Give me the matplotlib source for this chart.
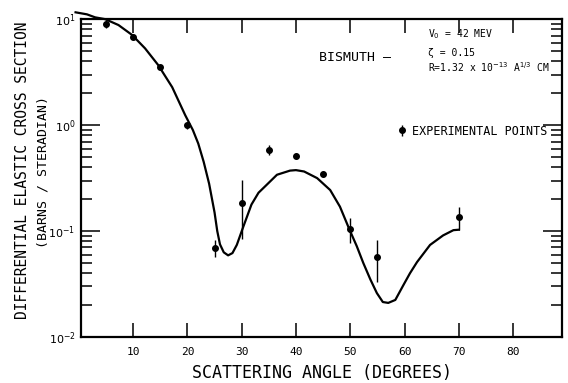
import numpy as np
import matplotlib.pyplot as plt

# angles in degrees, cross section in barns / steradian
exp_angle = [5, 10, 15, 20, 25, 30, 35, 40, 45, 50, 55, 70]
exp_sigma = [9.0, 6.8, 3.5, 1.0, 0.069, 0.184, 0.58, 0.51, 0.345, 0.105, 0.057, 0.135]
exp_err_lo = [0.8, 0.4, 0.2, 0.08, 0.012, 0.10, 0.06, 0.03, 0.02, 0.027, 0.024, 0.033]
exp_err_hi = [0.9, 0.4, 0.2, 0.08, 0.014, 0.12, 0.07, 0.03, 0.02, 0.028, 0.025, 0.035]

# optical model curve
fit_angle = [-0.6, 1.5, 3.0, 4.85, 7.3, 9.8, 12.2, 14.6, 17.2, 19.6, 21.0, 22.0,
             23.0, 24.0, 25.0, 25.5, 26.0, 26.7, 27.5, 28.3, 29.1, 30.3, 31.8,
             33.1, 34.5, 36.5, 38.9, 40.0, 41.5, 43.9, 46.3, 48.1, 49.9, 51.2,
             52.4, 53.7, 54.9, 56.0, 57.0, 58.3, 59.8, 61.0, 62.3, 64.7, 67.1,
             69.0, 70.0]
fit_sigma = [11.6, 11.1, 10.4, 10.0, 8.8, 7.1, 5.3, 3.7, 2.28, 1.24, 0.9, 0.67,
             0.45, 0.28, 0.15, 0.10, 0.075, 0.063, 0.059, 0.062, 0.074, 0.11,
             0.178, 0.23, 0.27, 0.34, 0.372, 0.376, 0.365, 0.316, 0.244, 0.17,
             0.102, 0.072, 0.050, 0.035, 0.026, 0.0214, 0.021, 0.0224, 0.031,
             0.040, 0.051, 0.074, 0.091, 0.102, 0.103]

mono = "DejaVu Sans Mono"

fig = plt.figure(figsize=(5.68, 3.83), dpi=100)
ax = fig.add_axes([0.1426, 0.120, 0.8468, 0.830])

ax.plot(fit_angle, fit_sigma, color="black", lw=1.6, clip_on=False, zorder=3,
        solid_joinstyle="round")
eb = ax.errorbar(exp_angle, exp_sigma, yerr=[exp_err_lo, exp_err_hi], fmt="o",
                 color="black", ms=4, elinewidth=1.0, capsize=0, zorder=4)

ax.set_yscale("log")
ax.set_ylim(1e-2, 1e1)
ax.set_xlim(0.4, 89)
ax.set_xticks([10, 20, 30, 40, 50, 60, 70, 80])

for s in ax.spines.values():
    s.set_linewidth(1.6)

ax.tick_params(which="both", direction="in", top=True, right=True, width=1.1)
ax.tick_params(axis="x", which="major", length=10, pad=7)
ax.tick_params(axis="y", which="major", length=14, pad=4)
ax.tick_params(axis="y", which="minor", length=8)
for lab in ax.get_xticklabels():
    lab.set_fontfamily(mono)
    lab.set_fontsize(8)
for lab in ax.get_yticklabels():
    lab.set_fontsize(8)

fig.text(0.567, 0.026, "SCATTERING ANGLE (DEGREES)", family=mono, fontsize=12,
         ha="center", va="center")
fig.text(0.039, 0.556, "DIFFERENTIAL ELASTIC CROSS SECTION", family=mono,
         fontsize=10.5, rotation=90, ha="center", va="center")
fig.text(0.076, 0.55, "(BARNS / STERADIAN)", family=mono, fontsize=9.5,
         rotation=90, ha="center", va="center")

ax.text(0.494, 0.88, "BISMUTH \u2014", transform=ax.transAxes, family=mono,
        fontsize=9.5, va="center")
ax.text(0.722, 0.952, r"V$_0$ = 42 MEV", transform=ax.transAxes, family=mono,
        fontsize=7, va="center")
ax.text(0.722, 0.894, "\u03b6 = 0.15", transform=ax.transAxes, family=mono,
        fontsize=7, va="center")
ax.text(0.722, 0.849, r"R=1.32 x 10$^{-13}$ A$^{1/3}$ CM", transform=ax.transAxes,
        family=mono, fontsize=7, va="center")

leg = ax.legend([eb], ["EXPERIMENTAL POINTS"], loc="center left",
                bbox_to_anchor=(0.632, 0.648), frameon=False, handlelength=1.0,
                handletextpad=0.4, prop={"family": mono, "size": 8.5})

fig.savefig("out.png", dpi=100)
